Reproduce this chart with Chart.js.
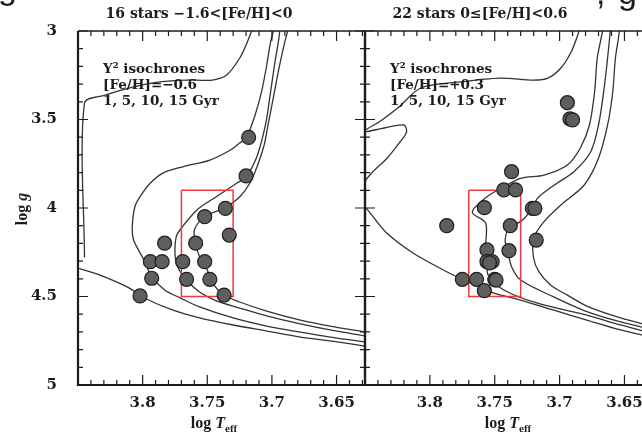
<!DOCTYPE html>
<html>
<head>
<meta charset="utf-8">
<script src="https://cdn.jsdelivr.net/npm/chart.js@4.4.1/dist/chart.umd.min.js"></script>
<style>
  html, body { margin: 0; padding: 0; background: #fff; overflow: hidden; }
  #wrap { position: relative; width: 642px; height: 438px; overflow: hidden; }
  canvas { position: absolute; top: 0; }
  #right { left: 300px; }
  #left { left: 0; }
</style>
</head>
<body>
<div id="wrap">
  <canvas id="right" width="360" height="438"></canvas>
  <canvas id="left" width="370" height="438"></canvas>
</div>
<script>
// tick labels
var xTickValues = [3.8, 3.75, 3.7, 3.65];
var yTickValues = [3, 3.5, 4, 4.5, 5];

var leftStarsT = [3.718, 3.720, 3.736, 3.752, 3.733, 3.783, 3.759, 3.794, 3.785, 3.769, 3.752, 3.793, 3.766, 3.748, 3.737, 3.802];
var leftStarsG = [3.601, 3.819, 4.002, 4.049, 4.153, 4.199, 4.199, 4.303, 4.303, 4.303, 4.303, 4.397, 4.403, 4.403, 4.492, 4.497];
var rightStarsT = [3.694, 3.692, 3.690, 3.737, 3.743, 3.734, 3.721, 3.719, 3.758, 3.787, 3.738, 3.718, 3.756, 3.739, 3.756, 3.752, 3.754, 3.775, 3.764, 3.750, 3.749, 3.758];
var rightStarsG = [3.405, 3.497, 3.502, 3.795, 3.898, 3.898, 4.002, 4.002, 3.998, 4.100, 4.100, 4.181, 4.237, 4.241, 4.303, 4.303, 4.310, 4.403, 4.403, 4.403, 4.407, 4.467];

// selection box
var boxT = [3.77, 3.73, 3.73, 3.77, 3.77];
var boxG = [3.9, 3.9, 4.5, 4.5, 3.9];

// Y2 isochrones, [Fe/H] = -0.6  (pairs of log Teff, log g)
var leftIso1Gyr = [[3.628,4.780],[3.655,4.751],[3.678,4.729],[3.704,4.695],[3.730,4.661],[3.756,4.621],[3.777,4.576],[3.797,4.514],[3.812,4.446],[3.833,4.379],[3.850,4.339],[3.864,4.305]];
var leftIso1GyrUpper = [[3.845,4.28],[3.845,3.407],[3.829,3.362],[3.807,3.316],[3.787,3.288],[3.766,3.277],[3.746,3.277],[3.735,3.249],[3.725,3.154],[3.720,3.079],[3.716,3.004],[3.713,2.938]];
var leftIso5Gyr = [[3.628,4.757],[3.655,4.729],[3.678,4.701],[3.704,4.667],[3.730,4.621],[3.756,4.559],[3.771,4.508],[3.783,4.463],[3.793,4.388],[3.799,4.294],[3.807,4.181],[3.808,4.106],[3.806,3.993],[3.802,3.936],[3.794,3.859],[3.784,3.802],[3.769,3.767],[3.748,3.729],[3.732,3.672],[3.725,3.633],[3.720,3.606],[3.713,3.475],[3.708,3.343],[3.704,3.192],[3.701,3.060],[3.699,3.004],[3.698,2.940]];
var leftIso10Gyr = [[3.628,4.723],[3.655,4.689],[3.678,4.655],[3.704,4.610],[3.725,4.565],[3.743,4.525],[3.756,4.475],[3.766,4.407],[3.773,4.332],[3.775,4.254],[3.774,4.162],[3.770,4.113],[3.758,4.011],[3.743,3.936],[3.727,3.859],[3.720,3.823],[3.712,3.718],[3.705,3.531],[3.701,3.343],[3.698,3.192],[3.695,3.060],[3.694,3.004],[3.693,2.938]];
var leftIso15Gyr = [[3.628,4.701],[3.655,4.667],[3.678,4.633],[3.704,4.582],[3.725,4.531],[3.737,4.492],[3.746,4.424],[3.750,4.350],[3.756,4.275],[3.759,4.198],[3.760,4.124],[3.752,4.049],[3.736,3.998],[3.725,3.938],[3.717,3.859],[3.711,3.757],[3.706,3.644],[3.703,3.531],[3.698,3.343],[3.694,3.192],[3.690,3.060],[3.688,3.004],[3.687,2.938]];

// Y2 isochrones, [Fe/H] = +0.3
var rightIso1Gyr = [[3.627,4.734],[3.653,4.689],[3.679,4.633],[3.705,4.576],[3.730,4.520],[3.751,4.480],[3.771,4.416],[3.787,4.360],[3.813,4.254],[3.833,4.143],[3.849,4.002],[3.852,3.989]];
var rightIso1GyrUpper = [[3.852,3.864],[3.844,3.795],[3.833,3.719],[3.823,3.627],[3.818,3.571],[3.820,3.531],[3.835,3.548],[3.851,3.569],[3.838,3.508],[3.825,3.437],[3.807,3.322],[3.777,3.288],[3.746,3.266],[3.720,3.277],[3.709,3.266],[3.699,3.209],[3.691,3.117],[3.686,3.023],[3.685,2.994],[3.684,2.938]];
var rightIso5Gyr = [[3.666,2.938],[3.667,3.004],[3.671,3.154],[3.673,3.343],[3.677,3.531],[3.684,3.661],[3.694,3.757],[3.712,3.814],[3.730,3.832],[3.743,3.880],[3.756,3.936],[3.766,4.002],[3.767,4.030],[3.757,4.085],[3.757,4.219],[3.756,4.303],[3.755,4.379],[3.743,4.463],[3.717,4.538],[3.679,4.605],[3.653,4.661],[3.627,4.712]];
var rightIso10Gyr = [[3.660,2.938],[3.661,3.004],[3.663,3.154],[3.666,3.343],[3.670,3.531],[3.676,3.682],[3.689,3.795],[3.704,3.870],[3.717,3.944],[3.721,4.002],[3.730,4.077],[3.738,4.100],[3.742,4.181],[3.740,4.241],[3.737,4.332],[3.730,4.407],[3.705,4.501],[3.679,4.586],[3.653,4.644],[3.627,4.689]];
var rightIso15Gyr = [[3.654,2.938],[3.654,3.004],[3.657,3.154],[3.659,3.343],[3.663,3.531],[3.670,3.719],[3.681,3.870],[3.699,3.983],[3.712,4.077],[3.720,4.171],[3.720,4.284],[3.716,4.360],[3.707,4.435],[3.694,4.492],[3.679,4.554],[3.653,4.621],[3.627,4.672]];

var INK = '#1c1c1c';
var tickFont = { family: 'DejaVu Serif', size: 15, weight: 'bold' };

function pairsToXY(pairs) {
    return pairs.map(function(p) { return { x: p[0], y: p[1] }; });
}

function zipXY(xs, ys) {
    return xs.map(function(x, i) { return { x: x, y: ys[i] }; });
}

function curve(pairs) {
    return {
        data: pairsToXY(pairs),
        showLine: true,
        borderColor: '#333',
        borderWidth: 1.3,
        pointRadius: 0,
        tension: 0.3,
        clip: 0,
        order: 3
    };
}

// inward minor/major ticks and the frame
var framePlugin = {
    id: 'frame',
    afterDatasetsDraw: function(chart) {
        var ctx = chart.ctx, a = chart.chartArea;
        var xs = chart.scales.x, ys = chart.scales.y;
        ctx.save();
        ctx.strokeStyle = INK;
        ctx.lineWidth = 1.2;
        ctx.beginPath();
        for (var i = 363; i <= 385; i++) {
            var px = xs.getPixelForValue(i / 100);
            var len = i % 5 === 0 ? 10 : 5;
            ctx.moveTo(px, a.bottom); ctx.lineTo(px, a.bottom - len);
            ctx.moveTo(px, a.top); ctx.lineTo(px, a.top + len);
        }
        for (var j = 30; j <= 50; j++) {
            var py = ys.getPixelForValue(j / 10);
            var l2 = j % 5 === 0 ? 10 : 5;
            ctx.moveTo(a.left, py); ctx.lineTo(a.left + l2, py);
            ctx.moveTo(a.right, py); ctx.lineTo(a.right - l2, py);
        }
        ctx.stroke();
        ctx.lineWidth = 2.2;
        ctx.beginPath();
        ctx.moveTo(a.left, a.top); ctx.lineTo(a.left, a.bottom); ctx.lineTo(a.right, a.bottom);
        ctx.moveTo(a.right, a.top); ctx.lineTo(a.right, a.bottom);
        ctx.stroke();
        ctx.lineWidth = 1.5;
        ctx.beginPath();
        ctx.moveTo(a.left, a.top); ctx.lineTo(a.right, a.top);
        ctx.stroke();
        ctx.restore();
    }
};

// titles, labels and the isochrone note
function textPlugin(cfg) {
    return {
        id: 'panelText',
        afterDraw: function(chart) {
            var ctx = chart.ctx;
            ctx.save();
            ctx.fillStyle = INK;
            ctx.textBaseline = 'alphabetic';

            ctx.font = 'bold 14px "DejaVu Serif"';
            ctx.textAlign = 'center';
            ctx.fillText(cfg.title, cfg.titleX, 18);

            ctx.textAlign = 'left';
            ctx.font = 'bold 13.5px "DejaVu Serif"';
            cfg.note.forEach(function(line, k) {
                ctx.fillText(line, cfg.noteX, 73 + k * 16);
            });

            // clipped glyphs from the text above the figure
            ctx.font = '34px "Liberation Sans"';
            cfg.fragments.forEach(function(f) { ctx.fillText(f[0], f[1], f[2]); });

            // log T_eff
            ctx.font = 'bold 16px "Liberation Serif"';
            var w1 = ctx.measureText('log ').width;
            ctx.font = 'italic bold 16px "Liberation Serif"';
            var w2 = ctx.measureText('T').width;
            ctx.font = 'bold 11px "Liberation Serif"';
            var w3 = ctx.measureText('eff').width;
            var x0 = cfg.xLabelX - (w1 + w2 + w3) / 2;
            ctx.font = 'bold 16px "Liberation Serif"';
            ctx.fillText('log ', x0, 428);
            ctx.font = 'italic bold 16px "Liberation Serif"';
            ctx.fillText('T', x0 + w1, 428);
            ctx.font = 'bold 11px "Liberation Serif"';
            ctx.fillText('eff', x0 + w1 + w2, 432);

            if (cfg.yLabel) {
                ctx.translate(27, 209);
                ctx.rotate(-Math.PI / 2);
                ctx.font = 'bold 16px "Liberation Serif"';
                var a1 = ctx.measureText('log ').width;
                ctx.font = 'italic bold 16px "Liberation Serif"';
                var a2 = ctx.measureText('g').width;
                ctx.font = 'bold 16px "Liberation Serif"';
                ctx.fillText('log ', -(a1 + a2) / 2, 0);
                ctx.font = 'italic bold 16px "Liberation Serif"';
                ctx.fillText('g', -(a1 + a2) / 2 + a1, 0);
            }
            ctx.restore();
        }
    };
}

function makePanel(id, stars, isochrones, cfg) {
    var datasets = [{
        data: stars,
        backgroundColor: '#5e5e5e',
        borderColor: '#1e1e1e',
        borderWidth: 1.2,
        pointRadius: 7,
        order: 1
    }, {
        data: zipXY(boxT, boxG),
        showLine: true,
        borderColor: '#f0393c',
        borderWidth: 1.5,
        pointRadius: 0,
        tension: 0,
        order: 2
    }];
    isochrones.forEach(function(p) { datasets.push(curve(p)); });

    return new Chart(document.getElementById(id), {
        type: 'scatter',
        data: { datasets: datasets },
        options: {
            responsive: false,
            animation: false,
            events: [],
            layout: { autoPadding: false, padding: { left: 0, right: cfg.padRight, top: 31, bottom: 0 } },
            plugins: { legend: { display: false }, tooltip: { enabled: false } },
            scales: {
                x: {
                    type: 'linear', min: 3.628, max: 3.85, reverse: true,
                    grid: { display: false }, border: { display: false },
                    afterBuildTicks: function(s) { s.ticks = xTickValues.map(function(v) { return { value: v }; }); },
                    afterFit: function(s) { s.height = 53; s.paddingLeft = 0; s.paddingRight = 0; },
                    ticks: { color: INK, font: tickFont, padding: 1, maxRotation: 0,
                        callback: function(v) { return String(Math.round(v * 100) / 100); } }
                },
                y: {
                    type: 'linear', min: 3, max: 5, reverse: true,
                    grid: { display: false }, border: { display: false },
                    afterBuildTicks: function(s) { s.ticks = yTickValues.map(function(v) { return { value: v }; }); },
                    afterFit: function(s) { s.width = cfg.yWidth; s.paddingTop = 0; s.paddingBottom = 0; },
                    ticks: { display: cfg.yTicks, color: INK, font: tickFont, padding: 13,
                        callback: function(v) { return String(v); } }
                }
            }
        },
        plugins: [framePlugin, textPlugin(cfg)]
    });
}

var leftChart = makePanel('left', zipXY(leftStarsT, leftStarsG),
    [leftIso1Gyr, leftIso1GyrUpper, leftIso5Gyr, leftIso10Gyr, leftIso15Gyr], {
    padRight: 5, yWidth: 78, yTicks: true, yLabel: true,
    title: '16 stars \u22121.6<[Fe/H]<0', titleX: 199,
    note: ['Y\u00b2 isochrones', '[Fe/H]=\u22120.6', '1, 5, 10, 15 Gyr'], noteX: 103,
    fragments: [['g', -2, -1]],
    xLabelX: 214
});

var rightChart = makePanel('right', zipXY(rightStarsT, rightStarsG),
    [rightIso1Gyr, rightIso1GyrUpper, rightIso5Gyr, rightIso10Gyr, rightIso15Gyr], {
    padRight: 7, yWidth: 65, yTicks: false, yLabel: false,
    title: '22 stars 0\u2264[Fe/H]<0.6', titleX: 180,
    note: ['Y\u00b2 isochrones', '[Fe/H]=+0.3', '1, 5, 10, 15 Gyr'], noteX: 90,
    fragments: [[',', 296, 4], ['g', 318, 4]],
    xLabelX: 208
});
</script>
</body>
</html>
